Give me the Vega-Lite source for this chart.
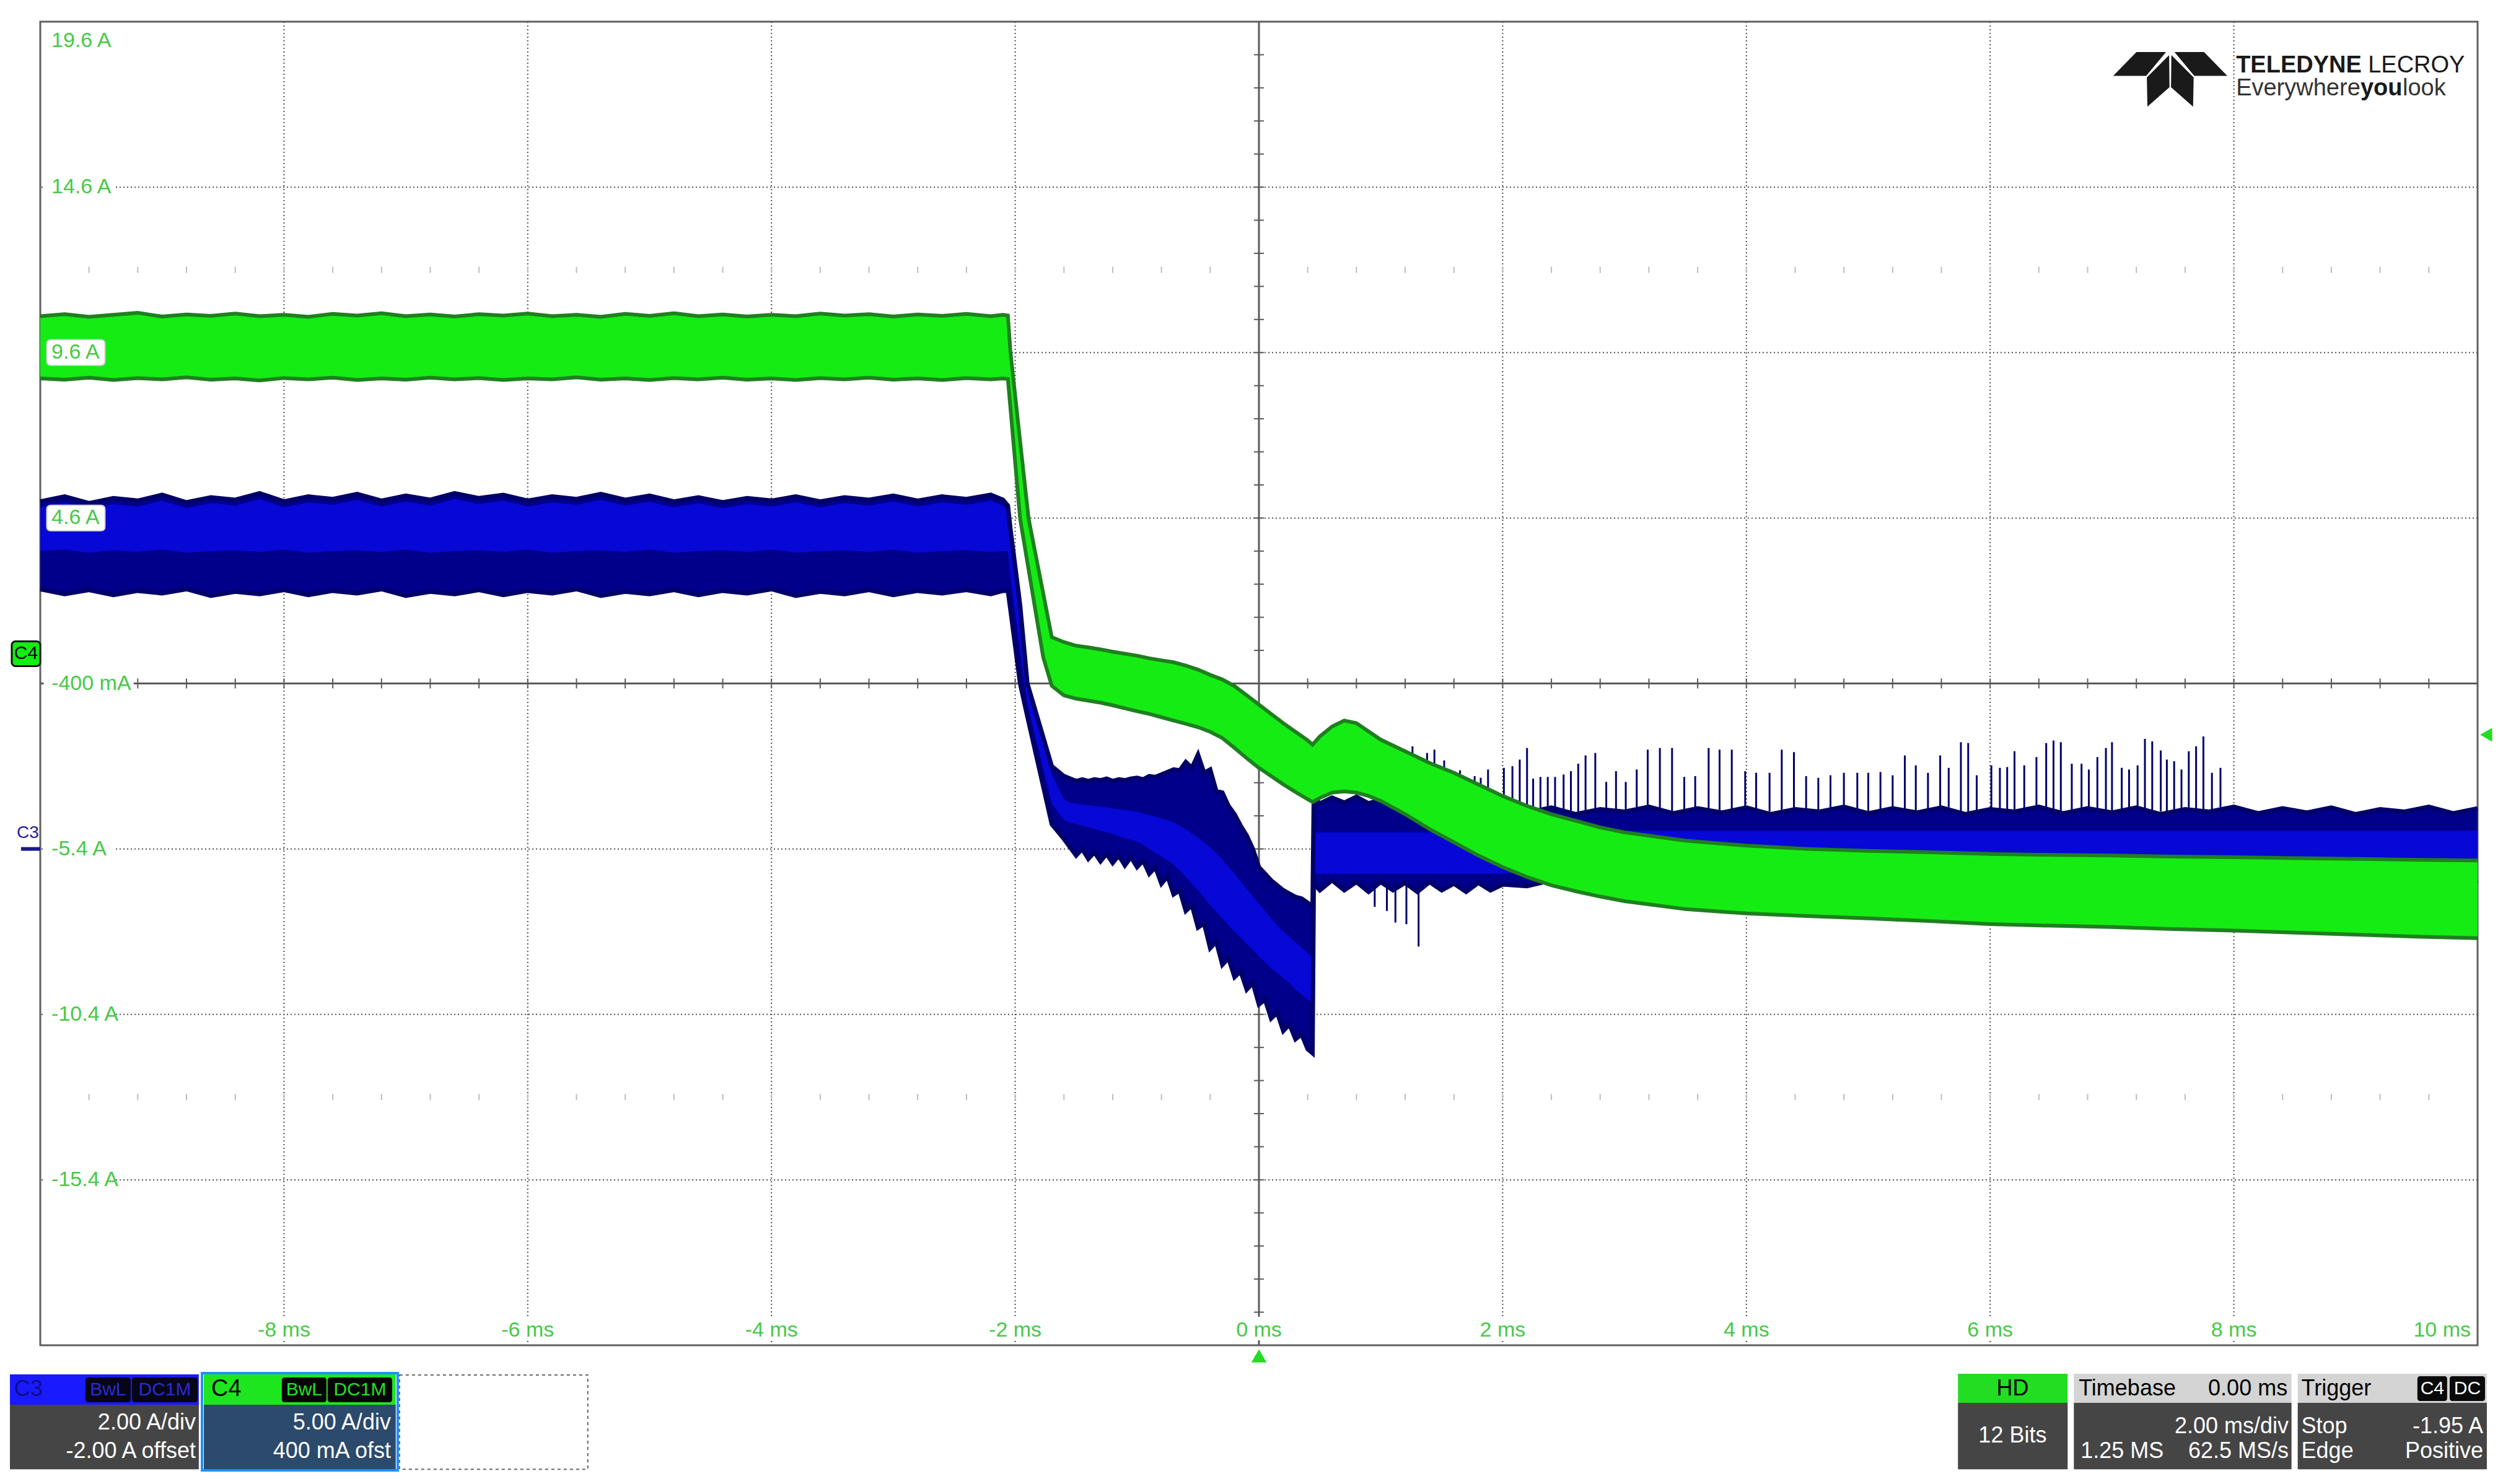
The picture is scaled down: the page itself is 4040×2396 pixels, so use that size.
{
"$schema": "https://vega.github.io/schema/vega-lite/v6.json",
"width": 3934, "height": 2137,
"autosize": {"type": "none"},
"padding": {"left": 65, "top": 35, "right": 41, "bottom": 224},
"background": "#ffffff",
"config": {"view": {"stroke": "#606060", "strokeWidth": 3}, "text": {"font": "Liberation Sans"}},
"data": {"values": [{}]},
"datasets": {
"green": [
{"t":-10,"lo":8.82,"hi":10.7},{"t":-9.8,"lo":8.78,"hi":10.76},{"t":-9.6,"lo":8.84,"hi":10.68},{"t":-9.4,"lo":8.77,"hi":10.74},{"t":-9.2,"lo":8.83,"hi":10.8},{"t":-9,"lo":8.79,"hi":10.69},{"t":-8.8,"lo":8.85,"hi":10.75},{"t":-8.6,"lo":8.78,"hi":10.71},{"t":-8.4,"lo":8.82,"hi":10.78},{"t":-8.2,"lo":8.76,"hi":10.7},{"t":-8,"lo":8.83,"hi":10.74},{"t":-7.8,"lo":8.79,"hi":10.68},{"t":-7.6,"lo":8.84,"hi":10.77},{"t":-7.4,"lo":8.77,"hi":10.72},{"t":-7.2,"lo":8.82,"hi":10.79},{"t":-7,"lo":8.78,"hi":10.7},{"t":-6.8,"lo":8.84,"hi":10.75},{"t":-6.6,"lo":8.79,"hi":10.69},{"t":-6.4,"lo":8.83,"hi":10.76},{"t":-6.2,"lo":8.77,"hi":10.72},{"t":-6,"lo":8.82,"hi":10.78},{"t":-5.8,"lo":8.79,"hi":10.7},{"t":-5.6,"lo":8.85,"hi":10.74},{"t":-5.4,"lo":8.78,"hi":10.68},{"t":-5.2,"lo":8.82,"hi":10.77},{"t":-5,"lo":8.77,"hi":10.71},{"t":-4.8,"lo":8.83,"hi":10.79},{"t":-4.6,"lo":8.79,"hi":10.7},{"t":-4.4,"lo":8.84,"hi":10.75},{"t":-4.2,"lo":8.78,"hi":10.69},{"t":-4,"lo":8.82,"hi":10.74},{"t":-3.8,"lo":8.77,"hi":10.7},{"t":-3.6,"lo":8.83,"hi":10.78},{"t":-3.4,"lo":8.79,"hi":10.72},{"t":-3.2,"lo":8.84,"hi":10.76},{"t":-3,"lo":8.78,"hi":10.69},{"t":-2.8,"lo":8.82,"hi":10.75},{"t":-2.6,"lo":8.77,"hi":10.71},{"t":-2.4,"lo":8.83,"hi":10.77},{"t":-2.2,"lo":8.79,"hi":10.7},{"t":-2.1,"lo":8.82,"hi":10.74},{"t":-2.06,"lo":8.8,"hi":10.72},
{"t":-2.04,"lo":7.96,"hi":9.66},{"t":-1.96,"lo":4.58,"hi":6.93},{"t":-1.89,"lo":3.04,"hi":4.58},{"t":-1.77,"lo":0.39,"hi":2.32},{"t":-1.7,"lo":-0.47,"hi":1.0},{"t":-1.6,"lo":-0.76,"hi":0.85},
{"t":-1.5,"lo":-0.86,"hi":0.74},{"t":-1.4,"lo":-0.92,"hi":0.69},{"t":-1.3,"lo":-0.98,"hi":0.63},{"t":-1.2,"lo":-1.06,"hi":0.56},{"t":-1.1,"lo":-1.15,"hi":0.5},{"t":-1.0,"lo":-1.24,"hi":0.44},{"t":-0.9,"lo":-1.32,"hi":0.36},{"t":-0.8,"lo":-1.42,"hi":0.3},{"t":-0.7,"lo":-1.52,"hi":0.24},{"t":-0.6,"lo":-1.62,"hi":0.14},{"t":-0.5,"lo":-1.72,"hi":0.02},{"t":-0.4,"lo":-1.86,"hi":-0.14},{"t":-0.3,"lo":-2.05,"hi":-0.28},{"t":-0.2,"lo":-2.35,"hi":-0.48},{"t":-0.1,"lo":-2.66,"hi":-0.76},{"t":0,"lo":-2.95,"hi":-1.04},{"t":0.1,"lo":-3.2,"hi":-1.32},{"t":0.2,"lo":-3.45,"hi":-1.6},{"t":0.3,"lo":-3.68,"hi":-1.86},{"t":0.4,"lo":-3.9,"hi":-2.12},{"t":0.44,"lo":-3.98,"hi":-2.25},
{"t":0.5,"lo":-3.86,"hi":-2.0},{"t":0.6,"lo":-3.7,"hi":-1.7},{"t":0.7,"lo":-3.66,"hi":-1.52},{"t":0.8,"lo":-3.7,"hi":-1.6},{"t":0.9,"lo":-3.8,"hi":-1.85},{"t":1.0,"lo":-3.95,"hi":-2.1},{"t":1.2,"lo":-4.35,"hi":-2.45},{"t":1.4,"lo":-4.8,"hi":-2.8},{"t":1.6,"lo":-5.2,"hi":-3.1},{"t":1.8,"lo":-5.6,"hi":-3.45},{"t":2.0,"lo":-5.95,"hi":-3.8},{"t":2.2,"lo":-6.25,"hi":-4.1},{"t":2.4,"lo":-6.5,"hi":-4.35},{"t":2.6,"lo":-6.68,"hi":-4.55},{"t":2.8,"lo":-6.84,"hi":-4.75},{"t":3.0,"lo":-6.98,"hi":-4.9},{"t":3.5,"lo":-7.22,"hi":-5.15},{"t":4.0,"lo":-7.35,"hi":-5.3},{"t":4.5,"lo":-7.43,"hi":-5.4},{"t":5.0,"lo":-7.5,"hi":-5.46},{"t":5.5,"lo":-7.58,"hi":-5.5},{"t":6.0,"lo":-7.67,"hi":-5.55},{"t":6.5,"lo":-7.72,"hi":-5.58},{"t":7.0,"lo":-7.76,"hi":-5.6},{"t":7.5,"lo":-7.82,"hi":-5.63},{"t":8.0,"lo":-7.87,"hi":-5.65},{"t":8.5,"lo":-7.93,"hi":-5.68},{"t":9.0,"lo":-7.99,"hi":-5.7},{"t":9.5,"lo":-8.05,"hi":-5.73},{"t":10,"lo":-8.1,"hi":-5.75}
],
"blue": [
{"t":-10,"hi":4.2,"lo":3.14,"bhi":4.13,"blo":3.6},{"t":-9.8,"hi":4.26,"lo":3.08,"bhi":4.19,"blo":3.62},{"t":-9.6,"hi":4.18,"lo":3.13,"bhi":4.11,"blo":3.58},{"t":-9.4,"hi":4.24,"lo":3.07,"bhi":4.17,"blo":3.61},{"t":-9.2,"hi":4.21,"lo":3.12,"bhi":4.14,"blo":3.59},{"t":-9,"hi":4.28,"lo":3.09,"bhi":4.21,"blo":3.62},{"t":-8.8,"hi":4.19,"lo":3.14,"bhi":4.12,"blo":3.58},{"t":-8.6,"hi":4.25,"lo":3.06,"bhi":4.18,"blo":3.6},{"t":-8.4,"hi":4.22,"lo":3.11,"bhi":4.15,"blo":3.61},{"t":-8.2,"hi":4.3,"lo":3.08,"bhi":4.23,"blo":3.59},{"t":-8,"hi":4.2,"lo":3.13,"bhi":4.13,"blo":3.62},{"t":-7.8,"hi":4.26,"lo":3.07,"bhi":4.19,"blo":3.58},{"t":-7.6,"hi":4.23,"lo":3.12,"bhi":4.16,"blo":3.6},{"t":-7.4,"hi":4.29,"lo":3.09,"bhi":4.22,"blo":3.61},{"t":-7.2,"hi":4.21,"lo":3.14,"bhi":4.14,"blo":3.59},{"t":-7,"hi":4.27,"lo":3.06,"bhi":4.2,"blo":3.62},{"t":-6.8,"hi":4.22,"lo":3.11,"bhi":4.15,"blo":3.58},{"t":-6.6,"hi":4.3,"lo":3.08,"bhi":4.23,"blo":3.6},{"t":-6.4,"hi":4.24,"lo":3.13,"bhi":4.17,"blo":3.61},{"t":-6.2,"hi":4.28,"lo":3.07,"bhi":4.21,"blo":3.59},{"t":-6,"hi":4.21,"lo":3.12,"bhi":4.14,"blo":3.62},{"t":-5.8,"hi":4.26,"lo":3.09,"bhi":4.19,"blo":3.58},{"t":-5.6,"hi":4.23,"lo":3.14,"bhi":4.16,"blo":3.6},{"t":-5.4,"hi":4.29,"lo":3.06,"bhi":4.22,"blo":3.61},{"t":-5.2,"hi":4.22,"lo":3.11,"bhi":4.15,"blo":3.59},{"t":-5,"hi":4.27,"lo":3.08,"bhi":4.2,"blo":3.62},{"t":-4.8,"hi":4.2,"lo":3.13,"bhi":4.13,"blo":3.58},{"t":-4.6,"hi":4.25,"lo":3.07,"bhi":4.18,"blo":3.6},{"t":-4.4,"hi":4.19,"lo":3.12,"bhi":4.12,"blo":3.61},{"t":-4.2,"hi":4.24,"lo":3.09,"bhi":4.17,"blo":3.59},{"t":-4,"hi":4.21,"lo":3.14,"bhi":4.14,"blo":3.62},{"t":-3.8,"hi":4.26,"lo":3.06,"bhi":4.19,"blo":3.58},{"t":-3.6,"hi":4.2,"lo":3.11,"bhi":4.13,"blo":3.6},{"t":-3.4,"hi":4.25,"lo":3.08,"bhi":4.18,"blo":3.61},{"t":-3.2,"hi":4.22,"lo":3.13,"bhi":4.15,"blo":3.59},{"t":-3,"hi":4.27,"lo":3.07,"bhi":4.2,"blo":3.62},{"t":-2.8,"hi":4.21,"lo":3.12,"bhi":4.14,"blo":3.58},{"t":-2.6,"hi":4.26,"lo":3.09,"bhi":4.19,"blo":3.6},{"t":-2.4,"hi":4.23,"lo":3.13,"bhi":4.16,"blo":3.61},{"t":-2.2,"hi":4.28,"lo":3.08,"bhi":4.21,"blo":3.59},{"t":-2.1,"hi":4.22,"lo":3.12,"bhi":4.15,"blo":3.6},{"t":-2.06,"hi":4.15,"lo":3.12,"bhi":4.08,"blo":3.6},
{"t":-2.04,"hi":3.88,"lo":2.9,"bhi":3.8,"blo":3.3},{"t":-1.96,"hi":2.95,"lo":2.0,"bhi":2.88,"blo":2.4},{"t":-1.9,"hi":2.0,"lo":1.6,"bhi":1.95,"blo":1.75},{"t":-1.8,"hi":1.5,"lo":0.95,"bhi":1.42,"blo":1.15},{"t":-1.7,"hi":1.0,"lo":0.3,"bhi":0.9,"blo":0.55},{"t":-1.6,"hi":0.88,"lo":0.12,"bhi":0.6,"blo":0.35},
{"t":-1.55,"hi":0.85,"lo":0.02,"bhi":0.56,"blo":0.32},{"t":-1.5,"hi":0.82,"lo":-0.08,"bhi":0.55,"blo":0.3},{"t":-1.45,"hi":0.84,"lo":0.0,"bhi":0.54,"blo":0.28},{"t":-1.4,"hi":0.82,"lo":-0.12,"bhi":0.53,"blo":0.26},{"t":-1.35,"hi":0.84,"lo":-0.04,"bhi":0.52,"blo":0.24},{"t":-1.3,"hi":0.83,"lo":-0.15,"bhi":0.51,"blo":0.22},{"t":-1.25,"hi":0.85,"lo":-0.06,"bhi":0.5,"blo":0.2},{"t":-1.2,"hi":0.82,"lo":-0.17,"bhi":0.49,"blo":0.18},{"t":-1.15,"hi":0.84,"lo":-0.08,"bhi":0.48,"blo":0.15},{"t":-1.1,"hi":0.83,"lo":-0.2,"bhi":0.47,"blo":0.13},{"t":-1.05,"hi":0.85,"lo":-0.1,"bhi":0.46,"blo":0.11},{"t":-1.0,"hi":0.86,"lo":-0.22,"bhi":0.45,"blo":0.09},{"t":-0.95,"hi":0.84,"lo":-0.14,"bhi":0.43,"blo":0.05},{"t":-0.9,"hi":0.88,"lo":-0.3,"bhi":0.41,"blo":0.0},{"t":-0.85,"hi":0.87,"lo":-0.22,"bhi":0.39,"blo":-0.05},{"t":-0.8,"hi":0.9,"lo":-0.42,"bhi":0.37,"blo":-0.09},{"t":-0.75,"hi":0.93,"lo":-0.33,"bhi":0.35,"blo":-0.14},{"t":-0.7,"hi":0.96,"lo":-0.55,"bhi":0.32,"blo":-0.19},{"t":-0.65,"hi":0.95,"lo":-0.5,"bhi":0.28,"blo":-0.26},{"t":-0.6,"hi":1.05,"lo":-0.75,"bhi":0.24,"blo":-0.34},{"t":-0.55,"hi":0.98,"lo":-0.68,"bhi":0.19,"blo":-0.42},{"t":-0.5,"hi":1.14,"lo":-0.95,"bhi":0.14,"blo":-0.5},{"t":-0.45,"hi":0.92,"lo":-0.9,"bhi":0.08,"blo":-0.59},{"t":-0.4,"hi":0.96,"lo":-1.2,"bhi":0.02,"blo":-0.68},{"t":-0.35,"hi":0.7,"lo":-1.12,"bhi":-0.05,"blo":-0.76},{"t":-0.3,"hi":0.68,"lo":-1.4,"bhi":-0.13,"blo":-0.84},{"t":-0.25,"hi":0.52,"lo":-1.32,"bhi":-0.21,"blo":-0.92},{"t":-0.2,"hi":0.42,"lo":-1.55,"bhi":-0.3,"blo":-1.0},{"t":-0.15,"hi":0.28,"lo":-1.48,"bhi":-0.39,"blo":-1.07},{"t":-0.1,"hi":0.16,"lo":-1.7,"bhi":-0.48,"blo":-1.15},{"t":-0.05,"hi":0.0,"lo":-1.62,"bhi":-0.57,"blo":-1.22},{"t":0,"hi":-0.22,"lo":-1.88,"bhi":-0.66,"blo":-1.3},{"t":0.05,"hi":-0.3,"lo":-1.82,"bhi":-0.75,"blo":-1.37},{"t":0.1,"hi":-0.38,"lo":-2.05,"bhi":-0.84,"blo":-1.44},{"t":0.15,"hi":-0.44,"lo":-1.98,"bhi":-0.92,"blo":-1.5},{"t":0.2,"hi":-0.5,"lo":-2.2,"bhi":-1.0,"blo":-1.56},{"t":0.25,"hi":-0.54,"lo":-2.12,"bhi":-1.06,"blo":-1.62},{"t":0.3,"hi":-0.58,"lo":-2.3,"bhi":-1.13,"blo":-1.7},{"t":0.35,"hi":-0.6,"lo":-2.24,"bhi":-1.19,"blo":-1.76},{"t":0.4,"hi":-0.65,"lo":-2.42,"bhi":-1.26,"blo":-1.82},{"t":0.44,"hi":-0.7,"lo":-2.47,"bhi":-1.31,"blo":-1.86},
{"t":0.45,"hi":0.62,"lo":-0.42,"bhi":0.2,"blo":-0.3},{"t":0.5,"hi":0.55,"lo":-0.5,"bhi":0.2,"blo":-0.3},{"t":0.6,"hi":0.62,"lo":-0.38,"bhi":0.2,"blo":-0.3},{"t":0.7,"hi":0.56,"lo":-0.5,"bhi":0.2,"blo":-0.3},{"t":0.8,"hi":0.63,"lo":-0.4,"bhi":0.2,"blo":-0.3},{"t":0.9,"hi":0.55,"lo":-0.52,"bhi":0.2,"blo":-0.3},{"t":1.0,"hi":0.6,"lo":-0.4,"bhi":0.2,"blo":-0.3},{"t":1.1,"hi":0.54,"lo":-0.5,"bhi":0.2,"blo":-0.3},{"t":1.2,"hi":0.58,"lo":-0.41,"bhi":0.2,"blo":-0.3},{"t":1.3,"hi":0.52,"lo":-0.52,"bhi":0.2,"blo":-0.3},{"t":1.4,"hi":0.56,"lo":-0.4,"bhi":0.2,"blo":-0.3},{"t":1.5,"hi":0.5,"lo":-0.5,"bhi":0.2,"blo":-0.3},{"t":1.6,"hi":0.55,"lo":-0.42,"bhi":0.2,"blo":-0.3},{"t":1.7,"hi":0.49,"lo":-0.52,"bhi":0.2,"blo":-0.3},{"t":1.8,"hi":0.53,"lo":-0.41,"bhi":0.2,"blo":-0.3},{"t":1.9,"hi":0.48,"lo":-0.5,"bhi":0.2,"blo":-0.3},{"t":2.0,"hi":0.52,"lo":-0.43,"bhi":0.2,"blo":-0.3},
{"t":2.2,"hi":0.44,"lo":-0.45,"bhi":0.22,"blo":-0.28},{"t":2.4,"hi":0.5,"lo":-0.38,"bhi":0.22,"blo":-0.28},{"t":2.6,"hi":0.42,"lo":-0.45,"bhi":0.22,"blo":-0.28},{"t":2.8,"hi":0.48,"lo":-0.38,"bhi":0.22,"blo":-0.28},{"t":3.0,"hi":0.45,"lo":-0.45,"bhi":0.22,"blo":-0.28},{"t":3.2,"hi":0.51,"lo":-0.38,"bhi":0.22,"blo":-0.28},{"t":3.4,"hi":0.43,"lo":-0.45,"bhi":0.22,"blo":-0.28},{"t":3.6,"hi":0.49,"lo":-0.38,"bhi":0.22,"blo":-0.28},{"t":3.8,"hi":0.44,"lo":-0.45,"bhi":0.22,"blo":-0.28},{"t":4.0,"hi":0.5,"lo":-0.38,"bhi":0.22,"blo":-0.28},{"t":4.2,"hi":0.42,"lo":-0.45,"bhi":0.22,"blo":-0.28},{"t":4.4,"hi":0.48,"lo":-0.38,"bhi":0.22,"blo":-0.28},{"t":4.6,"hi":0.45,"lo":-0.45,"bhi":0.22,"blo":-0.28},{"t":4.8,"hi":0.51,"lo":-0.38,"bhi":0.22,"blo":-0.28},{"t":5.0,"hi":0.43,"lo":-0.45,"bhi":0.22,"blo":-0.28},{"t":5.2,"hi":0.49,"lo":-0.38,"bhi":0.22,"blo":-0.28},{"t":5.4,"hi":0.44,"lo":-0.45,"bhi":0.22,"blo":-0.28},{"t":5.6,"hi":0.5,"lo":-0.38,"bhi":0.22,"blo":-0.28},{"t":5.8,"hi":0.42,"lo":-0.45,"bhi":0.22,"blo":-0.28},{"t":6.0,"hi":0.48,"lo":-0.38,"bhi":0.22,"blo":-0.28},{"t":6.2,"hi":0.45,"lo":-0.45,"bhi":0.22,"blo":-0.28},{"t":6.4,"hi":0.51,"lo":-0.38,"bhi":0.22,"blo":-0.28},{"t":6.6,"hi":0.43,"lo":-0.45,"bhi":0.22,"blo":-0.28},{"t":6.8,"hi":0.49,"lo":-0.38,"bhi":0.22,"blo":-0.28},{"t":7.0,"hi":0.44,"lo":-0.45,"bhi":0.22,"blo":-0.28},{"t":7.2,"hi":0.5,"lo":-0.38,"bhi":0.22,"blo":-0.28},{"t":7.4,"hi":0.42,"lo":-0.45,"bhi":0.22,"blo":-0.28},{"t":7.6,"hi":0.48,"lo":-0.38,"bhi":0.22,"blo":-0.28},{"t":7.8,"hi":0.45,"lo":-0.45,"bhi":0.22,"blo":-0.28},{"t":8.0,"hi":0.51,"lo":-0.38,"bhi":0.22,"blo":-0.28},{"t":8.2,"hi":0.43,"lo":-0.45,"bhi":0.22,"blo":-0.28},{"t":8.4,"hi":0.49,"lo":-0.38,"bhi":0.22,"blo":-0.28},{"t":8.6,"hi":0.44,"lo":-0.45,"bhi":0.22,"blo":-0.28},{"t":8.8,"hi":0.5,"lo":-0.38,"bhi":0.22,"blo":-0.28},{"t":9.0,"hi":0.42,"lo":-0.45,"bhi":0.22,"blo":-0.28},{"t":9.2,"hi":0.48,"lo":-0.38,"bhi":0.22,"blo":-0.28},{"t":9.4,"hi":0.45,"lo":-0.45,"bhi":0.22,"blo":-0.28},{"t":9.6,"hi":0.51,"lo":-0.38,"bhi":0.22,"blo":-0.28},{"t":9.8,"hi":0.43,"lo":-0.45,"bhi":0.22,"blo":-0.28},{"t":10,"hi":0.49,"lo":-0.38,"bhi":0.22,"blo":-0.28}
],
"spikes": [
{"t":0.95,"top":-0.7,"base":-0.4},{"t":1.05,"top":-0.75,"base":-0.4},{"t":1.12,"top":-0.89,"base":-0.4},{"t":1.21,"top":-0.91,"base":-0.4},{"t":1.31,"top":-1.18,"base":-0.4},
{"t":1.26,"top":1.24,"base":0.45},{"t":1.38,"top":1.16,"base":0.45},{"t":1.44,"top":1.2,"base":0.45},{"t":1.52,"top":1.07,"base":0.45},{"t":1.65,"top":0.95,"base":0.45},{"t":1.77,"top":0.88,"base":0.45},{"t":1.82,"top":0.86,"base":0.45},{"t":1.88,"top":0.96,"base":0.45},{"t":2.01,"top":0.98,"base":0.45},{"t":2.08,"top":1.0,"base":0.45},{"t":2.14,"top":1.08,"base":0.45},{"t":2.2,"top":1.22,"base":0.45},{"t":2.25,"top":0.85,"base":0.45},{"t":2.31,"top":0.87,"base":0.45},{"t":2.37,"top":0.87,"base":0.45},{"t":2.43,"top":0.87,"base":0.45},{"t":2.5,"top":0.9,"base":0.45},{"t":2.56,"top":0.94,"base":0.45},{"t":2.62,"top":1.03,"base":0.45},{"t":2.68,"top":1.13,"base":0.45},{"t":2.76,"top":1.16,"base":0.45},{"t":2.85,"top":0.81,"base":0.45},{"t":2.93,"top":0.94,"base":0.45},{"t":3.01,"top":0.81,"base":0.45},{"t":3.1,"top":0.96,"base":0.45},{"t":3.19,"top":1.2,"base":0.45},{"t":3.29,"top":1.22,"base":0.45},{"t":3.39,"top":1.22,"base":0.45},{"t":3.49,"top":0.87,"base":0.45},{"t":3.58,"top":0.88,"base":0.45},{"t":3.69,"top":1.22,"base":0.45},{"t":3.78,"top":1.2,"base":0.45},{"t":3.88,"top":1.2,"base":0.45},{"t":3.99,"top":0.94,"base":0.45},{"t":4.08,"top":0.92,"base":0.45},{"t":4.19,"top":0.92,"base":0.45},{"t":4.29,"top":1.2,"base":0.45},{"t":4.39,"top":1.17,"base":0.45},{"t":4.49,"top":0.88,"base":0.45},{"t":4.59,"top":0.86,"base":0.45},{"t":4.69,"top":0.89,"base":0.45},{"t":4.8,"top":0.92,"base":0.45},{"t":4.91,"top":0.92,"base":0.45},{"t":5.0,"top":0.92,"base":0.45},{"t":5.1,"top":0.93,"base":0.45},{"t":5.2,"top":0.89,"base":0.45},{"t":5.3,"top":1.13,"base":0.45},{"t":5.39,"top":1.01,"base":0.45},{"t":5.49,"top":0.92,"base":0.45},{"t":5.59,"top":1.13,"base":0.45},{"t":5.66,"top":0.98,"base":0.45},{"t":5.76,"top":1.29,"base":0.45},{"t":5.82,"top":1.28,"base":0.45},{"t":5.89,"top":0.89,"base":0.45},{"t":6.01,"top":1.01,"base":0.45},{"t":6.08,"top":0.98,"base":0.45},{"t":6.14,"top":0.99,"base":0.45},{"t":6.2,"top":1.18,"base":0.45},{"t":6.28,"top":1.01,"base":0.45},{"t":6.38,"top":1.11,"base":0.45},{"t":6.46,"top":1.28,"base":0.45},{"t":6.52,"top":1.31,"base":0.45},{"t":6.58,"top":1.29,"base":0.45},{"t":6.67,"top":1.03,"base":0.45},{"t":6.75,"top":1.03,"base":0.45},{"t":6.81,"top":0.96,"base":0.45},{"t":6.88,"top":1.11,"base":0.45},{"t":6.95,"top":1.22,"base":0.45},{"t":7.0,"top":1.29,"base":0.45},{"t":7.08,"top":0.98,"base":0.45},{"t":7.14,"top":0.96,"base":0.45},{"t":7.21,"top":1.01,"base":0.45},{"t":7.27,"top":1.33,"base":0.45},{"t":7.33,"top":1.3,"base":0.45},{"t":7.4,"top":1.19,"base":0.45},{"t":7.45,"top":1.08,"base":0.45},{"t":7.51,"top":1.06,"base":0.45},{"t":7.57,"top":0.96,"base":0.45},{"t":7.63,"top":1.18,"base":0.45},{"t":7.69,"top":1.24,"base":0.45},{"t":7.75,"top":1.36,"base":0.45},{"t":7.82,"top":0.92,"base":0.45},{"t":7.89,"top":0.98,"base":0.45}
],
"xminor": [{"ms":-9.6},{"ms":-9.2},{"ms":-8.8},{"ms":-8.4},{"ms":-8},{"ms":-7.6},{"ms":-7.2},{"ms":-6.8},{"ms":-6.4},{"ms":-6},{"ms":-5.6},{"ms":-5.2},{"ms":-4.8},{"ms":-4.4},{"ms":-4},{"ms":-3.6},{"ms":-3.2},{"ms":-2.8},{"ms":-2.4},{"ms":-2},{"ms":-1.6},{"ms":-1.2},{"ms":-0.8},{"ms":-0.4},{"ms":0.4},{"ms":0.8},{"ms":1.2},{"ms":1.6},{"ms":2},{"ms":2.4},{"ms":2.8},{"ms":3.2},{"ms":3.6},{"ms":4},{"ms":4.4},{"ms":4.8},{"ms":5.2},{"ms":5.6},{"ms":6},{"ms":6.4},{"ms":6.8},{"ms":7.2},{"ms":7.6},{"ms":8},{"ms":8.4},{"ms":8.8},{"ms":9.2},{"ms":9.6}],
"yminor": [{"a":-19.4},{"a":-18.4},{"a":-17.4},{"a":-16.4},{"a":-15.4},{"a":-14.4},{"a":-13.4},{"a":-12.4},{"a":-11.4},{"a":-10.4},{"a":-9.4},{"a":-8.4},{"a":-7.4},{"a":-6.4},{"a":-5.4},{"a":-4.4},{"a":-3.4},{"a":-2.4},{"a":-1.4},{"a":0.6},{"a":1.6},{"a":2.6},{"a":3.6},{"a":4.6},{"a":5.6},{"a":6.6},{"a":7.6},{"a":8.6},{"a":9.6},{"a":10.6},{"a":11.6},{"a":12.6},{"a":13.6},{"a":14.6},{"a":15.6},{"a":16.6},{"a":17.6},{"a":18.6}],
"xgrid": [{"ms":-8},{"ms":-6},{"ms":-4},{"ms":-2},{"ms":2},{"ms":4},{"ms":6},{"ms":8}],
"ygrid": [{"v":14.6},{"v":9.6},{"v":4.6},{"v":-5.4},{"v":-10.4},{"v":-15.4}],
"ylabels": [{"v":14.6,"label":"14.6 A"},{"v":9.6,"label":"9.6 A"},{"v":4.6,"label":"4.6 A"},{"v":-0.4,"label":"-400 mA"},{"v":-5.4,"label":"-5.4 A"},{"v":-10.4,"label":"-10.4 A"},{"v":-15.4,"label":"-15.4 A"}],
"xlabels": [{"ms":-8,"label":"-8 ms"},{"ms":-6,"label":"-6 ms"},{"ms":-4,"label":"-4 ms"},{"ms":-2,"label":"-2 ms"},{"ms":0,"label":"0 ms"},{"ms":2,"label":"2 ms"},{"ms":4,"label":"4 ms"},{"ms":6,"label":"6 ms"},{"ms":8,"label":"8 ms"}]
},
"layer": [
{
"layer": [
{"data": {"name": "xgrid"}, "mark": {"type": "rule", "color": "#505050", "strokeWidth": 2, "strokeDash": [2, 4]},
 "encoding": {"x": {"field": "ms", "type": "quantitative", "scale": {"domain": [-10, 10], "nice": false, "zero": false}, "axis": null}}},
{"data": {"name": "ygrid"}, "mark": {"type": "rule", "color": "#505050", "strokeWidth": 2, "strokeDash": [2, 4]},
 "encoding": {"y": {"field": "v", "type": "quantitative", "scale": {"domain": [-20.4, 19.6], "nice": false, "zero": false}, "axis": null}}},
{"data": {"name": "xminor"}, "mark": {"type": "tick", "orient": "vertical", "color": "#5a5a5a", "size": 16, "thickness": 2, "opacity": 1},
 "encoding": {
  "x": {"field": "ms", "type": "quantitative", "scale": {"domain": [-10, 10], "nice": false, "zero": false}, "axis": null},
  "y": {"datum": -0.4, "type": "quantitative", "scale": {"domain": [-20.4, 19.6], "nice": false, "zero": false}, "axis": null}}},
{"data": {"name": "yminor"}, "mark": {"type": "tick", "orient": "horizontal", "color": "#5a5a5a", "size": 16, "thickness": 2, "opacity": 1},
 "encoding": {
  "x": {"datum": 0, "type": "quantitative", "scale": {"domain": [-10, 10], "nice": false, "zero": false}, "axis": null},
  "y": {"field": "a", "type": "quantitative", "scale": {"domain": [-20.4, 19.6], "nice": false, "zero": false}, "axis": null}}},
{"data": {"name": "xminor"}, "mark": {"type": "tick", "orient": "vertical", "color": "#bdbdbd", "size": 10, "thickness": 2, "opacity": 1},
 "encoding": {
  "x": {"field": "ms", "type": "quantitative", "scale": {"domain": [-10, 10], "nice": false, "zero": false}, "axis": null},
  "y": {"datum": 12.1, "type": "quantitative", "scale": {"domain": [-20.4, 19.6], "nice": false, "zero": false}, "axis": null}}},
{"data": {"name": "xminor"}, "mark": {"type": "tick", "orient": "vertical", "color": "#bdbdbd", "size": 10, "thickness": 2, "opacity": 1},
 "encoding": {
  "x": {"field": "ms", "type": "quantitative", "scale": {"domain": [-10, 10], "nice": false, "zero": false}, "axis": null},
  "y": {"datum": -12.9, "type": "quantitative", "scale": {"domain": [-20.4, 19.6], "nice": false, "zero": false}, "axis": null}}},
{"mark": {"type": "rule", "color": "#5a5a5a", "strokeWidth": 3},
 "encoding": {"x": {"datum": 0, "type": "quantitative", "scale": {"domain": [-10, 10], "nice": false, "zero": false}, "axis": null}}},
{"mark": {"type": "rule", "color": "#5a5a5a", "strokeWidth": 3},
 "encoding": {"y": {"datum": -0.4, "type": "quantitative", "scale": {"domain": [-20.4, 19.6], "nice": false, "zero": false}, "axis": null}}}
]
},
{
"layer": [
{"data": {"name": "blue"}, "mark": {"type": "area", "color": "#00008a", "opacity": 1},
 "encoding": {"x": {"field": "t", "type": "quantitative", "scale": {"domain": [-10, 10], "nice": false, "zero": false}, "axis": null},
  "y": {"field": "hi", "type": "quantitative", "scale": {"domain": [-6, 10], "nice": false, "zero": false}, "axis": null}, "y2": {"field": "lo"}}},
{"data": {"name": "blue"}, "mark": {"type": "area", "color": "#0707d6", "opacity": 1},
 "encoding": {"x": {"field": "t", "type": "quantitative", "scale": {"domain": [-10, 10], "nice": false, "zero": false}, "axis": null},
  "y": {"field": "bhi", "type": "quantitative", "scale": {"domain": [-6, 10], "nice": false, "zero": false}, "axis": null}, "y2": {"field": "blo"}}},
{"data": {"name": "blue"}, "mark": {"type": "line", "color": "#000068", "strokeWidth": 7},
 "encoding": {"x": {"field": "t", "type": "quantitative", "scale": {"domain": [-10, 10], "nice": false, "zero": false}, "axis": null},
  "y": {"field": "hi", "type": "quantitative", "scale": {"domain": [-6, 10], "nice": false, "zero": false}, "axis": null}}},
{"data": {"name": "blue"}, "mark": {"type": "line", "color": "#000068", "strokeWidth": 7},
 "encoding": {"x": {"field": "t", "type": "quantitative", "scale": {"domain": [-10, 10], "nice": false, "zero": false}, "axis": null},
  "y": {"field": "lo", "type": "quantitative", "scale": {"domain": [-6, 10], "nice": false, "zero": false}, "axis": null}}},
{"data": {"name": "spikes"}, "mark": {"type": "rule", "color": "#00006e", "strokeWidth": 3},
 "encoding": {"x": {"field": "t", "type": "quantitative", "scale": {"domain": [-10, 10], "nice": false, "zero": false}, "axis": null},
  "y": {"field": "top", "type": "quantitative", "scale": {"domain": [-6, 10], "nice": false, "zero": false}, "axis": null}, "y2": {"field": "base"}}}
]
},
{
"layer": [
{"data": {"name": "green"}, "mark": {"type": "area", "color": "#14ec14", "opacity": 1},
 "encoding": {
  "x": {"field": "t", "type": "quantitative", "scale": {"domain": [-10, 10], "nice": false, "zero": false}, "axis": null},
  "y": {"field": "hi", "type": "quantitative", "scale": {"domain": [-20.4, 19.6], "nice": false, "zero": false}, "axis": null},
  "y2": {"field": "lo"}}},
{"data": {"name": "green"}, "mark": {"type": "line", "color": "#1f7f1f", "strokeWidth": 6},
 "encoding": {"x": {"field": "t", "type": "quantitative", "scale": {"domain": [-10, 10], "nice": false, "zero": false}, "axis": null},
  "y": {"field": "hi", "type": "quantitative", "scale": {"domain": [-20.4, 19.6], "nice": false, "zero": false}, "axis": null}}},
{"data": {"name": "green"}, "mark": {"type": "line", "color": "#1f7f1f", "strokeWidth": 6},
 "encoding": {"x": {"field": "t", "type": "quantitative", "scale": {"domain": [-10, 10], "nice": false, "zero": false}, "axis": null},
  "y": {"field": "lo", "type": "quantitative", "scale": {"domain": [-20.4, 19.6], "nice": false, "zero": false}, "axis": null}}},
{"data": {"name": "ygrid"}, "transform": [{"filter": "datum.v != 9.6 && datum.v != 4.6"}],
 "mark": {"type": "point", "shape": "M-1,-0.34L1,-0.34L1,0.34L-1,0.34Z", "filled": true, "color": "#ffffff", "opacity": 1, "size": 13924, "strokeWidth": 0},
 "encoding": {"x": {"datum": -9.68, "type": "quantitative", "axis": null},
  "y": {"field": "v", "type": "quantitative", "scale": {"domain": [-20.4, 19.6], "nice": false, "zero": false}, "axis": null}}},
{"data": {"name": "ygrid"}, "transform": [{"filter": "datum.v == 9.6 || datum.v == 4.6"}],
 "mark": {"type": "point", "shape": "M-0.85,-0.44L0.85,-0.44Q1,-0.44 1,-0.3L1,0.3Q1,0.44 0.85,0.44L-0.85,0.44Q-1,0.44 -1,0.3L-1,-0.3Q-1,-0.44 -0.85,-0.44Z", "filled": true, "fill": "#ffffff", "stroke": "#cfcfcf", "strokeWidth": 2, "opacity": 1, "size": 8836},
 "encoding": {"x": {"datum": -9.708, "type": "quantitative", "axis": null},
  "y": {"field": "v", "type": "quantitative", "scale": {"domain": [-20.4, 19.6], "nice": false, "zero": false}, "axis": null}}},
{"mark": {"type": "point", "shape": "M-1,-0.28L1,-0.28L1,0.28L-1,0.28Z", "filled": true, "color": "#ffffff", "opacity": 1, "size": 21025, "strokeWidth": 0},
 "encoding": {"x": {"datum": -9.603, "type": "quantitative", "axis": null}, "y": {"datum": -0.4, "type": "quantitative", "axis": null}}},
{"data": {"name": "xlabels"}, "mark": {"type": "point", "shape": "M-1,-0.38L1,-0.38L1,0.38L-1,0.38Z", "filled": true, "color": "#ffffff", "opacity": 1, "size": 10000, "strokeWidth": 0},
 "encoding": {"x": {"field": "ms", "type": "quantitative", "axis": null}, "y": {"datum": -19.894, "type": "quantitative", "axis": null}}},
{"data": {"name": "ylabels"}, "mark": {"type": "text", "align": "left", "baseline": "middle", "fontSize": 34, "color": "#47c947"},
 "encoding": {"x": {"datum": -9.908, "type": "quantitative", "axis": null},
  "y": {"field": "v", "type": "quantitative", "scale": {"domain": [-20.4, 19.6], "nice": false, "zero": false}, "axis": null},
  "text": {"field": "label"}}},
{"data": {"name": "xlabels"}, "mark": {"type": "text", "align": "center", "baseline": "alphabetic", "fontSize": 34, "color": "#47c947"},
 "encoding": {"x": {"field": "ms", "type": "quantitative", "scale": {"domain": [-10, 10], "nice": false, "zero": false}, "axis": null},
  "y": {"datum": -20.137, "type": "quantitative", "axis": null},
  "text": {"field": "label"}}},
{"mark": {"type": "text", "text": "10 ms", "align": "right", "baseline": "alphabetic", "fontSize": 34, "color": "#47c947"},
 "encoding": {"x": {"datum": 9.944, "type": "quantitative", "axis": null}, "y": {"datum": -20.137, "type": "quantitative", "axis": null}}},
{"mark": {"type": "text", "text": "19.6 A", "align": "left", "baseline": "top", "dy": 14, "fontSize": 34, "color": "#47c947"},
 "encoding": {"x": {"datum": -9.908, "type": "quantitative", "axis": null}, "y": {"datum": 19.6, "type": "quantitative", "axis": null}}},
{"mark": {"type": "rect", "color": "#11ee11", "stroke": "#111111", "strokeWidth": 3, "cornerRadius": 6},
 "encoding": {"x": {"datum": -10.234, "type": "quantitative", "axis": null}, "x2": {"datum": -10.0}, "y": {"datum": 0.873, "type": "quantitative", "axis": null}, "y2": {"datum": 0.124}}},
{"mark": {"type": "text", "text": "C4", "align": "center", "baseline": "middle", "fontSize": 30, "color": "#000000"},
 "encoding": {"x": {"datum": -10.117, "type": "quantitative", "axis": null}, "y": {"datum": 0.499, "type": "quantitative", "axis": null}}},
{"mark": {"type": "text", "text": "C3", "align": "center", "baseline": "middle", "fontSize": 28, "color": "#22229a"},
 "encoding": {"x": {"datum": -10.102, "type": "quantitative", "axis": null}, "y": {"datum": -4.913, "type": "quantitative", "axis": null}}},
{"mark": {"type": "rule", "color": "#1a1a8c", "strokeWidth": 6},
 "encoding": {"x": {"datum": -10.158, "type": "quantitative", "axis": null}, "x2": {"datum": -10.0}, "y": {"datum": -5.4, "type": "quantitative", "axis": null}}},
{"mark": {"type": "point", "shape": "triangle-left", "filled": true, "color": "#22dd22", "opacity": 1, "size": 500},
 "encoding": {"x": {"datum": 10.07, "type": "quantitative", "axis": null}, "y": {"datum": -1.95, "type": "quantitative", "axis": null}}},
{"mark": {"type": "point", "shape": "triangle-up", "filled": true, "color": "#22dd22", "opacity": 1, "size": 600},
 "encoding": {"x": {"datum": 0, "type": "quantitative", "axis": null}, "y": {"datum": -20.72, "type": "quantitative", "axis": null}}},
{"mark": {"type": "point", "shape": "M-1,-0.063L-0.591,-0.479L-0.074,-0.479L-0.421,-0.063Z M-0.41,-0.034L-0.02,-0.425L-0.013,0.136L-0.4,0.479Z M0.02,-0.425L0.41,-0.034L0.4,0.479L0.013,0.136Z M0.074,-0.479L0.591,-0.479L1,-0.063L0.421,-0.063Z", "filled": true, "color": "#1a1a1a", "opacity": 1, "size": 33970},
 "encoding": {"x": {"datum": 7.478, "type": "quantitative", "axis": null}, "y": {"datum": 17.855, "type": "quantitative", "axis": null}}},
{"mark": {"type": "text", "text": "TELEDYNE", "align": "left", "baseline": "alphabetic", "fontSize": 38, "fontWeight": "bold", "color": "#1a1a1a"},
 "encoding": {"x": {"datum": 8.018, "type": "quantitative", "axis": null}, "y": {"datum": 18.064, "type": "quantitative", "axis": null}}},
{"mark": {"type": "text", "text": "LECROY", "align": "left", "baseline": "alphabetic", "fontSize": 38, "color": "#1a1a1a"},
 "encoding": {"x": {"datum": 9.101, "type": "quantitative", "axis": null}, "y": {"datum": 18.064, "type": "quantitative", "axis": null}}},
{"mark": {"type": "text", "text": "Everywhere", "align": "left", "baseline": "alphabetic", "fontSize": 38, "color": "#333333"},
 "encoding": {"x": {"datum": 8.018, "type": "quantitative", "axis": null}, "y": {"datum": 17.372, "type": "quantitative", "axis": null}}},
{"mark": {"type": "text", "text": "you", "align": "left", "baseline": "alphabetic", "fontSize": 38, "fontWeight": "bold", "color": "#1a1a1a"},
 "encoding": {"x": {"datum": 9.039, "type": "quantitative", "axis": null}, "y": {"datum": 17.372, "type": "quantitative", "axis": null}}},
{"mark": {"type": "text", "text": "look", "align": "left", "baseline": "alphabetic", "fontSize": 38, "color": "#333333"},
 "encoding": {"x": {"datum": 9.385, "type": "quantitative", "axis": null}, "y": {"datum": 17.372, "type": "quantitative", "axis": null}}},

{"mark": {"type": "rect", "color": "#1a1aff"},
 "encoding": {"x": {"datum": -10.249, "type": "quantitative", "axis": null}, "x2": {"datum": -8.699}, "y": {"datum": -21.28, "type": "quantitative", "axis": null}, "y2": {"datum": -22.197}}},
{"mark": {"type": "rect", "color": "#454545"},
 "encoding": {"x": {"datum": -10.249, "type": "quantitative", "axis": null}, "x2": {"datum": -8.699}, "y": {"datum": -22.197, "type": "quantitative", "axis": null}, "y2": {"datum": -24.146}}},
{"mark": {"type": "rect", "color": "#060618", "cornerRadius": 4},
 "encoding": {"x": {"datum": -9.629, "type": "quantitative", "axis": null}, "x2": {"datum": -9.258}, "y": {"datum": -21.373, "type": "quantitative", "axis": null}, "y2": {"datum": -22.122}}},
{"mark": {"type": "rect", "color": "#060618", "cornerRadius": 4},
 "encoding": {"x": {"datum": -9.248, "type": "quantitative", "axis": null}, "x2": {"datum": -8.709}, "y": {"datum": -21.373, "type": "quantitative", "axis": null}, "y2": {"datum": -22.122}}},
{"mark": {"type": "text", "text": "C3", "align": "left", "baseline": "middle", "fontSize": 36, "color": "#0d0d8c"},
 "encoding": {"x": {"datum": -10.213, "type": "quantitative", "axis": null}, "y": {"datum": -21.729, "type": "quantitative", "axis": null}}},
{"mark": {"type": "text", "text": "BwL", "align": "center", "baseline": "middle", "fontSize": 30, "color": "#2b2bd0"},
 "encoding": {"x": {"datum": -9.444, "type": "quantitative", "axis": null}, "y": {"datum": -21.748, "type": "quantitative", "axis": null}}},
{"mark": {"type": "text", "text": "DC1M", "align": "center", "baseline": "middle", "fontSize": 30, "color": "#2b2bd0"},
 "encoding": {"x": {"datum": -8.978, "type": "quantitative", "axis": null}, "y": {"datum": -21.748, "type": "quantitative", "axis": null}}},
{"mark": {"type": "text", "text": "2.00 A/div", "align": "right", "baseline": "middle", "fontSize": 36, "color": "#ffffff"},
 "encoding": {"x": {"datum": -8.724, "type": "quantitative", "axis": null}, "y": {"datum": -22.74, "type": "quantitative", "axis": null}}},
{"mark": {"type": "text", "text": "-2.00 A offset", "align": "right", "baseline": "middle", "fontSize": 36, "color": "#ffffff"},
 "encoding": {"x": {"datum": -8.724, "type": "quantitative", "axis": null}, "y": {"datum": -23.602, "type": "quantitative", "axis": null}}},

{"mark": {"type": "rect", "color": "#1ee61e"},
 "encoding": {"x": {"datum": -8.658, "type": "quantitative", "axis": null}, "x2": {"datum": -7.083}, "y": {"datum": -21.28, "type": "quantitative", "axis": null}, "y2": {"datum": -22.197}}},
{"mark": {"type": "rect", "color": "#2c4a6b"},
 "encoding": {"x": {"datum": -8.658, "type": "quantitative", "axis": null}, "x2": {"datum": -7.083}, "y": {"datum": -22.197, "type": "quantitative", "axis": null}, "y2": {"datum": -24.146}}},
{"mark": {"type": "rect", "fillOpacity": 0, "stroke": "#1e90ff", "strokeWidth": 4},
 "encoding": {"x": {"datum": -8.673, "type": "quantitative", "axis": null}, "x2": {"datum": -7.067}, "y": {"datum": -21.243, "type": "quantitative", "axis": null}, "y2": {"datum": -24.183}}},
{"mark": {"type": "rect", "color": "#050505", "cornerRadius": 4},
 "encoding": {"x": {"datum": -8.018, "type": "quantitative", "axis": null}, "x2": {"datum": -7.652}, "y": {"datum": -21.373, "type": "quantitative", "axis": null}, "y2": {"datum": -22.122}}},
{"mark": {"type": "rect", "color": "#050505", "cornerRadius": 4},
 "encoding": {"x": {"datum": -7.642, "type": "quantitative", "axis": null}, "x2": {"datum": -7.113}, "y": {"datum": -21.373, "type": "quantitative", "axis": null}, "y2": {"datum": -22.122}}},
{"mark": {"type": "text", "text": "C4", "align": "left", "baseline": "middle", "fontSize": 38, "color": "#000000"},
 "encoding": {"x": {"datum": -8.597, "type": "quantitative", "axis": null}, "y": {"datum": -21.729, "type": "quantitative", "axis": null}}},
{"mark": {"type": "text", "text": "BwL", "align": "center", "baseline": "middle", "fontSize": 30, "color": "#22e022"},
 "encoding": {"x": {"datum": -7.835, "type": "quantitative", "axis": null}, "y": {"datum": -21.748, "type": "quantitative", "axis": null}}},
{"mark": {"type": "text", "text": "DC1M", "align": "center", "baseline": "middle", "fontSize": 30, "color": "#22e022"},
 "encoding": {"x": {"datum": -7.377, "type": "quantitative", "axis": null}, "y": {"datum": -21.748, "type": "quantitative", "axis": null}}},
{"mark": {"type": "text", "text": "5.00 A/div", "align": "right", "baseline": "middle", "fontSize": 36, "color": "#ffffff"},
 "encoding": {"x": {"datum": -7.123, "type": "quantitative", "axis": null}, "y": {"datum": -22.74, "type": "quantitative", "axis": null}}},
{"mark": {"type": "text", "text": "400 mA ofst", "align": "right", "baseline": "middle", "fontSize": 36, "color": "#ffffff"},
 "encoding": {"x": {"datum": -7.123, "type": "quantitative", "axis": null}, "y": {"datum": -23.602, "type": "quantitative", "axis": null}}},
{"mark": {"type": "rect", "fillOpacity": 0, "stroke": "#666666", "strokeWidth": 2, "strokeDash": [5, 5]},
 "encoding": {"x": {"datum": -7.052, "type": "quantitative", "axis": null}, "x2": {"datum": -5.507}, "y": {"datum": -21.298, "type": "quantitative", "axis": null}, "y2": {"datum": -24.146}}},

{"mark": {"type": "rect", "color": "#22dd22"},
 "encoding": {"x": {"datum": 5.736, "type": "quantitative", "axis": null}, "x2": {"datum": 6.636}, "y": {"datum": -21.262, "type": "quantitative", "axis": null}, "y2": {"datum": -22.141}}},
{"mark": {"type": "rect", "color": "#454545"},
 "encoding": {"x": {"datum": 5.736, "type": "quantitative", "axis": null}, "x2": {"datum": 6.636}, "y": {"datum": -22.141, "type": "quantitative", "axis": null}, "y2": {"datum": -24.146}}},
{"mark": {"type": "text", "text": "HD", "align": "center", "baseline": "middle", "fontSize": 36, "color": "#000000"},
 "encoding": {"x": {"datum": 6.184, "type": "quantitative", "axis": null}, "y": {"datum": -21.71, "type": "quantitative", "axis": null}}},
{"mark": {"type": "text", "text": "12 Bits", "align": "center", "baseline": "middle", "fontSize": 36, "color": "#ffffff"},
 "encoding": {"x": {"datum": 6.184, "type": "quantitative", "axis": null}, "y": {"datum": -23.134, "type": "quantitative", "axis": null}}},

{"mark": {"type": "rect", "color": "#d4d4d4"},
 "encoding": {"x": {"datum": 6.687, "type": "quantitative", "axis": null}, "x2": {"datum": 8.473}, "y": {"datum": -21.262, "type": "quantitative", "axis": null}, "y2": {"datum": -22.141}}},
{"mark": {"type": "rect", "color": "#454545"},
 "encoding": {"x": {"datum": 6.687, "type": "quantitative", "axis": null}, "x2": {"datum": 8.473}, "y": {"datum": -22.141, "type": "quantitative", "axis": null}, "y2": {"datum": -24.146}}},
{"mark": {"type": "text", "text": "Timebase", "align": "left", "baseline": "middle", "fontSize": 36, "color": "#000000"},
 "encoding": {"x": {"datum": 6.727, "type": "quantitative", "axis": null}, "y": {"datum": -21.71, "type": "quantitative", "axis": null}}},
{"mark": {"type": "text", "text": "0.00 ms", "align": "right", "baseline": "middle", "fontSize": 36, "color": "#000000"},
 "encoding": {"x": {"datum": 8.44, "type": "quantitative", "axis": null}, "y": {"datum": -21.71, "type": "quantitative", "axis": null}}},
{"mark": {"type": "text", "text": "2.00 ms/div", "align": "right", "baseline": "middle", "fontSize": 36, "color": "#ffffff"},
 "encoding": {"x": {"datum": 8.45, "type": "quantitative", "axis": null}, "y": {"datum": -22.853, "type": "quantitative", "axis": null}}},
{"mark": {"type": "text", "text": "1.25 MS", "align": "left", "baseline": "middle", "fontSize": 36, "color": "#ffffff"},
 "encoding": {"x": {"datum": 6.742, "type": "quantitative", "axis": null}, "y": {"datum": -23.602, "type": "quantitative", "axis": null}}},
{"mark": {"type": "text", "text": "62.5 MS/s", "align": "right", "baseline": "middle", "fontSize": 36, "color": "#ffffff"},
 "encoding": {"x": {"datum": 8.45, "type": "quantitative", "axis": null}, "y": {"datum": -23.602, "type": "quantitative", "axis": null}}},

{"mark": {"type": "rect", "color": "#d4d4d4"},
 "encoding": {"x": {"datum": 8.524, "type": "quantitative", "axis": null}, "x2": {"datum": 10.076}, "y": {"datum": -21.262, "type": "quantitative", "axis": null}, "y2": {"datum": -22.141}}},
{"mark": {"type": "rect", "color": "#454545"},
 "encoding": {"x": {"datum": 8.524, "type": "quantitative", "axis": null}, "x2": {"datum": 10.076}, "y": {"datum": -22.141, "type": "quantitative", "axis": null}, "y2": {"datum": -24.146}}},
{"mark": {"type": "rect", "color": "#0a0a0a", "cornerRadius": 4},
 "encoding": {"x": {"datum": 9.506, "type": "quantitative", "axis": null}, "x2": {"datum": 9.75}, "y": {"datum": -21.336, "type": "quantitative", "axis": null}, "y2": {"datum": -22.085}}},
{"mark": {"type": "rect", "color": "#0a0a0a", "cornerRadius": 4},
 "encoding": {"x": {"datum": 9.771, "type": "quantitative", "axis": null}, "x2": {"datum": 10.061}, "y": {"datum": -21.336, "type": "quantitative", "axis": null}, "y2": {"datum": -22.085}}},
{"mark": {"type": "text", "text": "Trigger", "align": "left", "baseline": "middle", "fontSize": 36, "color": "#000000"},
 "encoding": {"x": {"datum": 8.554, "type": "quantitative", "axis": null}, "y": {"datum": -21.71, "type": "quantitative", "axis": null}}},
{"mark": {"type": "text", "text": "C4", "align": "center", "baseline": "middle", "fontSize": 30, "color": "#ffffff"},
 "encoding": {"x": {"datum": 9.628, "type": "quantitative", "axis": null}, "y": {"datum": -21.71, "type": "quantitative", "axis": null}}},
{"mark": {"type": "text", "text": "DC", "align": "center", "baseline": "middle", "fontSize": 30, "color": "#ffffff"},
 "encoding": {"x": {"datum": 9.916, "type": "quantitative", "axis": null}, "y": {"datum": -21.71, "type": "quantitative", "axis": null}}},
{"mark": {"type": "text", "text": "Stop", "align": "left", "baseline": "middle", "fontSize": 36, "color": "#ffffff"},
 "encoding": {"x": {"datum": 8.554, "type": "quantitative", "axis": null}, "y": {"datum": -22.853, "type": "quantitative", "axis": null}}},
{"mark": {"type": "text", "text": "-1.95 A", "align": "right", "baseline": "middle", "fontSize": 36, "color": "#ffffff"},
 "encoding": {"x": {"datum": 10.046, "type": "quantitative", "axis": null}, "y": {"datum": -22.853, "type": "quantitative", "axis": null}}},
{"mark": {"type": "text", "text": "Edge", "align": "left", "baseline": "middle", "fontSize": 36, "color": "#ffffff"},
 "encoding": {"x": {"datum": 8.554, "type": "quantitative", "axis": null}, "y": {"datum": -23.602, "type": "quantitative", "axis": null}}},
{"mark": {"type": "text", "text": "Positive", "align": "right", "baseline": "middle", "fontSize": 36, "color": "#ffffff"},
 "encoding": {"x": {"datum": 10.046, "type": "quantitative", "axis": null}, "y": {"datum": -23.602, "type": "quantitative", "axis": null}}}
]
}
],
"resolve": {"scale": {"y": "independent"}}
}
